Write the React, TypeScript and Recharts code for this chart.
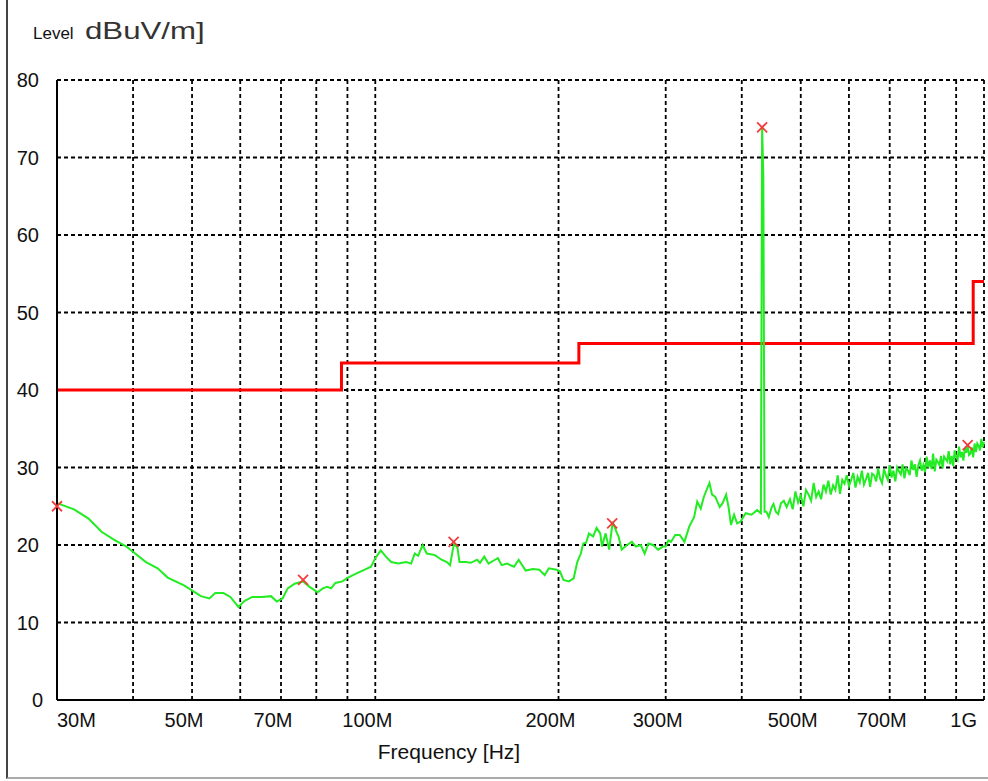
import { ComposedChart, Line, Scatter, XAxis, YAxis, CartesianGrid } from "recharts";

// measured trace, frequency in MHz / level in dBuV/m
const traceFreq = [
  30, 32, 33.8, 35.5, 37.2, 39, 42, 43.9, 45.6, 48.5, 51.7, 53.4, 54.6, 56.3, 57.8, 59.6, 61, 62.8, 65.2, 67.4,
  68.9, 70.4, 71.8, 73.7, 76.1, 78, 80.4, 82, 83.4, 84.6, 86, 88.3, 90.2, 93, 94.7, 95.9, 98.4, 100, 102.1, 104.1,
  106.2, 109.1, 112.4, 114.5, 116.1, 117.6, 119.6, 121.5, 125.3, 128.5, 131.1, 132.7, 134.1, 134.8, 136.5, 137.5, 140.7, 143.5, 147, 148.6,
  151, 153.5, 156.5, 159, 161.3, 164.5, 169, 172, 176.6, 181.5, 186, 189.8, 192.8, 198.6, 201, 203.8, 208, 211.8, 214.7, 217.6,
  219.6, 222, 224.4, 228, 231, 234.2, 235.7, 239, 242.2, 245.5, 249, 251, 254, 259, 264, 268, 273, 277, 281, 286,
  291.5, 297, 300, 303, 306, 311, 316.4, 322, 328, 334, 338, 342.5, 346.5, 351, 354, 357.5, 362, 368, 372, 377,
  380.5, 384, 388.5, 393, 398, 406, 415, 424, 430, 432, 434, 436, 439, 443, 448, 451, 455, 459, 464, 469,
  474, 480, 485, 490, 495, 500, 505, 510, 515, 520, 525, 530, 535, 540, 545, 550, 555, 560, 565, 570,
  575, 580, 585, 590, 595, 600, 605, 610, 615, 620, 625, 630, 635, 640, 645, 650, 655, 660, 665, 670,
  675, 680, 685, 690, 695, 700, 705, 710, 715, 720, 725, 730, 735, 740, 745, 750, 755, 760, 765, 770,
  775, 780, 785, 790, 795, 800, 805, 810, 815, 820, 825, 830, 835, 840, 845, 850, 855, 860, 865, 870,
  875, 880, 885, 890, 895, 900, 905, 910, 915, 920, 925, 930, 935, 940, 945, 950, 955, 960, 965, 970,
  975, 980, 985, 990, 995, 1000,
];
const traceLevel = [
  25.4, 24.6, 23.4, 21.7, 20.7, 19.8, 17.8, 17.0, 15.8, 14.8, 13.4, 13.1, 13.8, 13.8, 13.3, 12.0, 12.8, 13.3, 13.3, 13.4,
  12.7, 13.1, 14.4, 15.0, 15.3, 14.6, 13.9, 14.4, 14.6, 14.4, 15.1, 15.3, 15.8, 16.3, 16.6, 16.8, 17.2, 18.3, 19.3, 18.5,
  17.8, 17.6, 17.8, 17.6, 18.9, 18.6, 20.0, 18.9, 18.7, 18.1, 17.8, 17.4, 19.4, 20.2, 19.6, 17.8, 17.8, 17.7, 18.1, 17.7,
  18.5, 17.6, 18.0, 18.3, 17.4, 17.6, 17.2, 18.1, 16.7, 16.9, 16.8, 16.1, 17.0, 16.8, 16.6, 15.5, 15.3, 15.7, 17.8, 18.9,
  20.2, 20.3, 21.5, 21.1, 22.2, 21.5, 19.8, 21.5, 19.4, 23.0, 21.7, 21.1, 19.4, 20.0, 20.4, 19.8, 20.0, 18.9, 20.2, 20.0,
  19.4, 19.8, 19.8, 20.6, 20.4, 21.3, 21.3, 20.4, 22.4, 23.6, 25.6, 24.7, 26.2, 27.3, 28.0, 26.5, 26.2, 24.9, 25.4, 26.5,
  24.9, 22.6, 23.9, 22.8, 23.0, 24.1, 23.9, 24.5, 24.1, 73.9, 67.6, 24.3, 24.3, 23.6, 24.9, 25.3, 24.3, 24.0, 25.4, 25.7,
  24.9, 25.9, 24.6, 26.9, 25.5, 26.4, 25.0, 27.1, 26.5, 25.7, 28.0, 26.2, 26.9, 25.9, 27.8, 26.9, 28.3, 26.5, 27.7, 27.1,
  29.0, 26.6, 28.4, 27.9, 29.0, 27.6, 28.4, 29.3, 27.4, 28.8, 28.1, 29.6, 27.8, 28.5, 29.3, 27.5, 29.2, 29.0, 28.2, 29.9,
  28.6, 28.0, 29.8, 29.0, 28.4, 30.3, 28.7, 29.6, 28.2, 30.0, 29.5, 29.1, 30.4, 28.6, 29.9, 29.6, 29.0, 30.9, 29.7, 30.4,
  28.8, 30.3, 30.9, 29.6, 30.3, 29.4, 31.4, 30.0, 30.9, 29.8, 31.8, 29.5, 31.0, 30.7, 30.3, 31.5, 29.9, 31.4, 31.1, 30.8,
  32.1, 30.4, 31.5, 30.2, 32.2, 31.4, 31.0, 32.7, 31.3, 32.0, 30.9, 32.5, 31.9, 32.9, 31.6, 31.8, 32.6, 31.3, 33.1, 32.0,
  33.1, 32.8, 32.2, 33.7, 32.6, 33.3,
];

// limit line (steps)
const limitFreq = [30, 88, 216, 960, 1000];
const limitLevel = [40, 43.5, 46, 54, 54];

// peak markers
const markerFreq = [30, 76.1, 134.5, 245, 432, 940];
const markerLevel = [25.0, 15.5, 20.4, 22.8, 73.9, 32.9];

const xTicks = [30, 40, 50, 60, 70, 80, 90, 100, 200, 300, 400, 500, 600, 700, 800, 900, 1000];
const xTickLabels: Record<number, string> = {
  30: "30M",
  50: "50M",
  70: "70M",
  100: "100M",
  200: "200M",
  300: "300M",
  500: "500M",
  700: "700M",
  1000: "1G",
};
const yTicks = [0, 10, 20, 30, 40, 50, 60, 70, 80];

const trace = traceFreq.map((f, i) => ({ f, level: traceLevel[i] }));
const limit = limitFreq.map((f, i) => ({ f, level: limitLevel[i] }));
const markers = markerFreq.map((f, i) => ({ f, level: markerLevel[i] }));

const FONT = "'Liberation Sans', Arial, sans-serif";

function XTick(props: any) {
  const { x, y, payload } = props;
  const label = xTickLabels[payload.value];
  if (!label) return <g />;
  let anchor = "middle";
  let dx = -8;
  if (payload.value === 30) {
    anchor = "start";
    dx = 0;
  } else if (payload.value === 1000) {
    anchor = "end";
    dx = -7;
  }
  return (
    <text x={x + dx} y={y} dy="0.35em" textAnchor={anchor} fontSize={20} fontFamily={FONT} fill="#111">
      {label}
    </text>
  );
}

function YTick(props: any) {
  const { x, y, payload } = props;
  const dx = payload.value === 0 ? 4 : 0;
  return (
    <text x={x + dx} y={y} dy="0.35em" textAnchor="end" fontSize={20} fontFamily={FONT} fill="#111">
      {payload.value}
    </text>
  );
}

function XMark(props: any) {
  const { cx, cy } = props;
  const s = 5;
  return (
    <g stroke="#f23c3c" strokeWidth={1.8}>
      <line x1={cx - s} y1={cy - s} x2={cx + s} y2={cy + s} />
      <line x1={cx - s} y1={cy + s} x2={cx + s} y2={cy - s} />
    </g>
  );
}

export default function App() {
  return (
    <div style={{ position: "absolute", left: 0, top: 0, width: 988, height: 781, background: "#fff" }}>
      <div
        style={{
          position: "absolute",
          left: 6,
          top: 0,
          width: 982,
          height: 777,
          borderLeft: "2px solid #444",
          borderBottom: "2px solid #aaa",
        }}
      />
      <div style={{ position: "absolute", left: 33, top: 24, fontFamily: FONT, fontSize: 17, color: "#111" }}>
        Level
      </div>
      <div
        style={{
          position: "absolute",
          left: 85,
          top: 17,
          fontFamily: FONT,
          fontSize: 24,
          color: "#333",
          transform: "scaleX(1.3)",
          transformOrigin: "left",
          whiteSpace: "nowrap",
        }}
      >
        dBuV/m]
      </div>
      <ComposedChart width={988} height={781} margin={{ top: 80, right: 4, bottom: 41, left: 7 }}>
        <CartesianGrid stroke="#000" strokeDasharray="4 3" strokeWidth={1.8} />
        <XAxis
          dataKey="f"
          type="number"
          scale="log"
          domain={[30, 1000]}
          ticks={xTicks}
          interval={0}
          tick={<XTick />}
          tickLine={false}
          tickSize={0}
          tickMargin={20}
          height={40}
          axisLine={{ stroke: "#000", strokeWidth: 2 }}
        />
        <YAxis
          type="number"
          domain={[0, 80]}
          ticks={yTicks}
          interval={0}
          tick={<YTick />}
          tickLine={false}
          tickSize={0}
          tickMargin={18}
          width={50}
          axisLine={{ stroke: "#000", strokeWidth: 2 }}
        />
        <Line
          data={limit}
          dataKey="level"
          type="stepAfter"
          stroke="#ff0000"
          strokeWidth={3}
          dot={false}
          isAnimationActive={false}
        />
        <Line
          data={trace}
          dataKey="level"
          type="linear"
          stroke="#22ec22"
          strokeWidth={2}
          dot={false}
          isAnimationActive={false}
        />
        <Scatter data={markers} dataKey="level" shape={<XMark />} isAnimationActive={false} />
      </ComposedChart>
      <div
        style={{
          position: "absolute",
          left: 0,
          width: 898,
          top: 740,
          textAlign: "center",
          fontFamily: FONT,
          fontSize: 21,
          color: "#111",
        }}
      >
        Frequency [Hz]
      </div>
    </div>
  );
}
